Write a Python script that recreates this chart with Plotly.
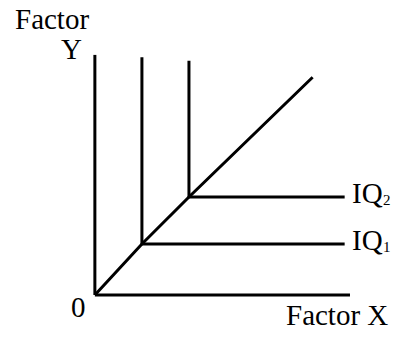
import plotly.graph_objects as go

# isoquant corners (factor X, factor Y) and arm ends
iso_names = ["IQ", "IQ"]
iso_subs = ["1", "2"]
corner_x = [0.97, 1.94]
corner_y = [1.05, 2.02]
arm_top_y = [4.9, 4.83]
arm_end_x = [5.15, 5.15]
# expansion path end
path_end = [4.49, 4.49]
axis_len_x = 5.26
axis_len_y = 4.95

LINE = dict(color="black", width=3)
FONT = dict(family="Liberation Serif", size=29, color="black")
SUB_FONT = dict(family="Liberation Serif", size=15, color="black")

fig = go.Figure()

# axes
fig.add_trace(go.Scatter(x=[0, axis_len_x], y=[0, 0], mode="lines", line=LINE))
fig.add_trace(go.Scatter(x=[0, 0], y=[0, axis_len_y], mode="lines", line=LINE))

# expansion path through the corners
fig.add_trace(go.Scatter(x=[0] + corner_x + [path_end[0]],
                         y=[0] + corner_y + [path_end[1]],
                         mode="lines", line=LINE))

# L-shaped isoquants
for cx, cy, ty, ex, name, sub in zip(corner_x, corner_y, arm_top_y, arm_end_x, iso_names, iso_subs):
    fig.add_trace(go.Scatter(x=[cx, cx, ex], y=[ty, cy, cy], mode="lines", line=LINE))
    fig.add_annotation(x=ex + 0.11, y=cy + 0.09, text=name, showarrow=False,
                       xanchor="left", yanchor="middle", font=FONT)
    fig.add_annotation(x=6.03, y=cy - 0.07, text=sub, showarrow=False,
                       xanchor="center", yanchor="middle", font=SUB_FONT)

for x, y, t in [(-0.883, 5.69, "Factor"), (-0.49, 5.07, "Y"),
                (-0.33, -0.25, "0"), (4.99, -0.41, "Factor X")]:
    fig.add_annotation(x=x, y=y, text=t, showarrow=False,
                       xanchor="center", yanchor="middle", font=FONT)

fig.update_layout(
    width=395, height=338,
    margin=dict(l=0, r=0, t=0, b=0),
    plot_bgcolor="white", paper_bgcolor="white",
    showlegend=False,
    hovermode=False,
    xaxis=dict(range=[-1.956, 6.188], visible=False),
    yaxis=dict(range=[-0.887, 6.082], visible=False),
)

# drop the default page margin so the figure sits at the window corner
fig.write_html("out.html", config={"displayModeBar": False},
               post_script="document.body.style.margin='0';")
